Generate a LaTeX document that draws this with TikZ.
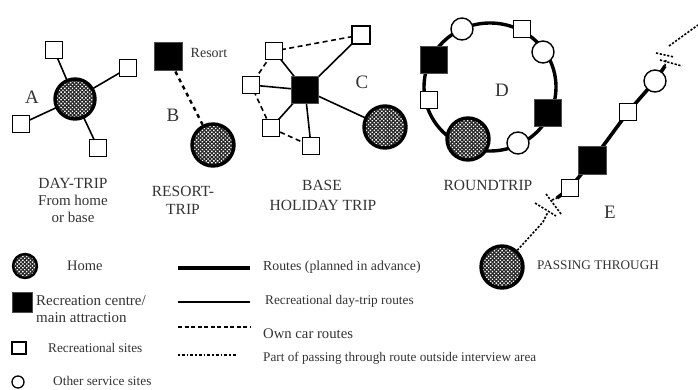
\documentclass[tikz,border=0pt]{standalone}
\usepackage{fontspec}
\setmainfont{Liberation Serif}
\usetikzlibrary{patterns.meta}
\newcommand{\fsz}[1]{\fontsize{#1}{#1}\selectfont}
\begin{document}
\begin{tikzpicture}[x=1pt,y=-1pt,
  txt/.style={text=black!80, inner sep=0pt},
  home/.style={circle, draw, line width=3.4pt, minimum size=#1, inner sep=0pt,
     preaction={fill=black!85}, pattern color=white, pattern={Dots[radius=0.95pt,distance=2.7pt,angle=45]}},
  home/.default=40pt,
  site/.style={rectangle, draw, fill=white, line width=1.2pt, minimum size=17pt, inner sep=0pt},
  centre/.style={rectangle, draw=black!70, fill=black, line width=1pt, minimum size=27pt, inner sep=0pt},
  svc/.style={circle, draw, fill=white, line width=1.4pt, minimum size=22pt, inner sep=0pt},
  dayroute/.style={line width=1.6pt},
  carroute/.style={line width=1.6pt, dash pattern=on 5pt off 3.5pt},
  planroute/.style={line width=3.4pt},
  passroute/.style={line width=1.6pt, dash pattern=on 2.2pt off 1.6pt},
  bigletter/.style={txt, font=\fsz{19}},
  caption/.style={txt, font=\fsz{15.5}, align=center}
]
\useasboundingbox (0,0) rectangle (698,390);

% ---------- A : day-trip ----------
\coordinate (pA) at (75,99);
\coordinate (pa1) at (54,50);
\coordinate (pa2) at (128,68);
\coordinate (pa3) at (21,124);
\coordinate (pa4) at (98,148);
\draw[dayroute] (pA) -- (pa1);
\draw[dayroute] (pA) -- (pa2);
\draw[dayroute] (pA) -- (pa3);
\draw[dayroute] (pA) -- (pa4);
\node[home] (hA) at (pA) {};
\node[site] (a1) at (pa1) {};
\node[site] (a2) at (pa2) {};
\node[site] (a3) at (pa3) {};
\node[site] (a4) at (pa4) {};
\node[bigletter] (lA) at (32,97) {A};
\node[caption] (capA1) at (73,183) {DAY-TRIP};
\node[txt, font=\fsz{15}] (capA2) at (73,200) {From home};
\node[txt, font=\fsz{15}] (capA3) at (73,217) {or base};

% ---------- B : resort trip ----------
\node[centre, minimum size=28pt] (res) at (168,57) {};
\node[home, minimum size=42pt] (hB) at (213,145) {};
\draw[line width=2.4pt, dash pattern=on 4pt off 4pt] (res) -- (hB);
\node[txt, font=\fsz{14}] (resl) at (209,53) {Resort};
\node[bigletter] (lB) at (173,115) {B};
\node[caption] (capB1) at (183,191) {RESORT-};
\node[caption] (capB2) at (183,209) {TRIP};

% ---------- C : base holiday trip ----------
\coordinate (cC) at (305,90);
\coordinate (pc1) at (274,51);
\coordinate (pc2) at (251,85);
\coordinate (pc3) at (271,128);
\coordinate (pc4) at (311,146);
\coordinate (pc5) at (361,35);
\coordinate (pcH) at (385,127);
\draw[carroute] (pc5) -- (pc1) -- (pc2) -- (pc3) -- (pc4);
\draw[dayroute] (cC) -- (pc1);
\draw[dayroute] (cC) -- (pc2);
\draw[dayroute] (cC) -- (pc3);
\draw[dayroute] (cC) -- (pc4);
\draw[dayroute] (cC) -- (pc5);
\draw[dayroute] (cC) -- (pcH);
\node[centre] (bC) at (cC) {};
\node[site] (c1) at (pc1) {};
\node[site] (c2) at (pc2) {};
\node[site] (c3) at (pc3) {};
\node[site] (c4) at (pc4) {};
\node[site, minimum size=18pt] (c5) at (pc5) {};
\node[home, minimum size=42pt] (hC) at (pcH) {};
\node[bigletter] (lC) at (362,82) {C};
\node[caption] (capC1) at (322,185) {BASE};
\node[caption] (capC2) at (323,205) {HOLIDAY TRIP};

% ---------- D : roundtrip ----------
\draw[planroute] (490,87) ellipse [x radius=66pt, y radius=64pt];
\node[svc] (d1) at (462,29) {};
\node[site] (d2) at (522,29) {};
\node[svc] (d3) at (543,52) {};
\node[centre] (d4) at (548,113) {};
\node[svc] (d5) at (518,143) {};
\node[home, minimum size=42pt] (hD) at (468,139) {};
\node[site] (d7) at (429,100) {};
\node[centre] (d8) at (434,60) {};
\node[bigletter] (lD) at (502,90) {D};
\node[caption] (capD) at (488,185) {ROUNDTRIP};

% ---------- E : passing through ----------
\coordinate (e0) at (557,198);
\coordinate (e1) at (665,66);
\coordinate (pe1) at (570,188);
\coordinate (pe2) at (592,161);
\coordinate (pe3) at (628,112);
\coordinate (pe4) at (655,81);
\draw[line width=3.6pt] (e0) -- (pe1) -- (pe2) -- (pe3) -- (pe4) -- (e1);
\node[site] (e1s) at (pe1) {};
\node[centre, minimum size=28pt] (e2c) at (pe2) {};
\node[site] (e3s) at (pe3) {};
\node[svc] (e4o) at (pe4) {};
\node[home, minimum size=42pt] (hE) at (502,267) {};
\coordinate (b1) at (543,222);
\draw[passroute] (hE) -- (b1) -- (548,212);
\draw[passroute] (535,203) -- (556,216);
\draw[passroute] (546,194) -- (561,214);
\draw[passroute] (552,200) -- (e0);
\draw[passroute] (e1) -- (666,59);
\draw[passroute] (656,53) -- (674,57);
\draw[passroute] (660,60) -- (682,66);
\coordinate (etop) at (698,25);
\draw[passroute] (669,46) -- (etop);
\node[bigletter] (lE) at (610,212) {E};
\node[txt, font=\fsz{13.2}, anchor=west] (passl) at (537,265) {PASSING THROUGH};

% ---------- legend ----------
\node[home, minimum size=24pt, line width=2.4pt] (lgh) at (25,266) {};
\node[txt, font=\fsz{14.5}, anchor=west] (lght) at (67,266) {Home};
\node[centre, minimum size=20pt] (lgc) at (22,302) {};
\node[txt, font=\fsz{15}, anchor=west] (lgct1) at (36,301) {Recreation centre/};
\node[txt, font=\fsz{15}, anchor=west] (lgct2) at (36,318) {main attraction};
\node[site, minimum width=14pt, minimum height=12pt] (lgs) at (19,348) {};
\node[txt, font=\fsz{13.3}, anchor=west] (lgst) at (48,348) {Recreational sites};
\node[svc, minimum size=12pt, line width=1.3pt] (lgo) at (18,382) {};
\node[txt, font=\fsz{13.3}, anchor=west] (lgot) at (53,381) {Other service sites};

\coordinate (l1a) at (178,268); \coordinate (l1b) at (250,268);
\coordinate (l2a) at (178,302); \coordinate (l2b) at (250,302);
\coordinate (l3a) at (178,327); \coordinate (l3b) at (250,327);
\coordinate (l4a) at (178,355); \coordinate (l4b) at (237,355);
\draw[planroute] (l1a) -- (l1b);
\draw[line width=1.3pt] (l2a) -- (l2b);
\draw[line width=1.3pt, dash pattern=on 4pt off 2.5pt] (l3a) -- (l3b);
\draw[line width=1.5pt, dash pattern=on 1.5pt off 2pt on 3pt off 2pt] (l4a) -- (l4b);
\node[txt, font=\fsz{13.8}, anchor=west] (lt1) at (263,267) {Routes (planned in advance)};
\node[txt, font=\fsz{13.3}, anchor=west] (lt2) at (265,301) {Recreational day-trip routes};
\node[txt, font=\fsz{14.7}, anchor=west] (lt3) at (263,334) {Own car routes};
\node[txt, font=\fsz{13.2}, anchor=west] (lt4) at (263,358) {Part of passing through route outside interview area};
\end{tikzpicture}
\end{document}
